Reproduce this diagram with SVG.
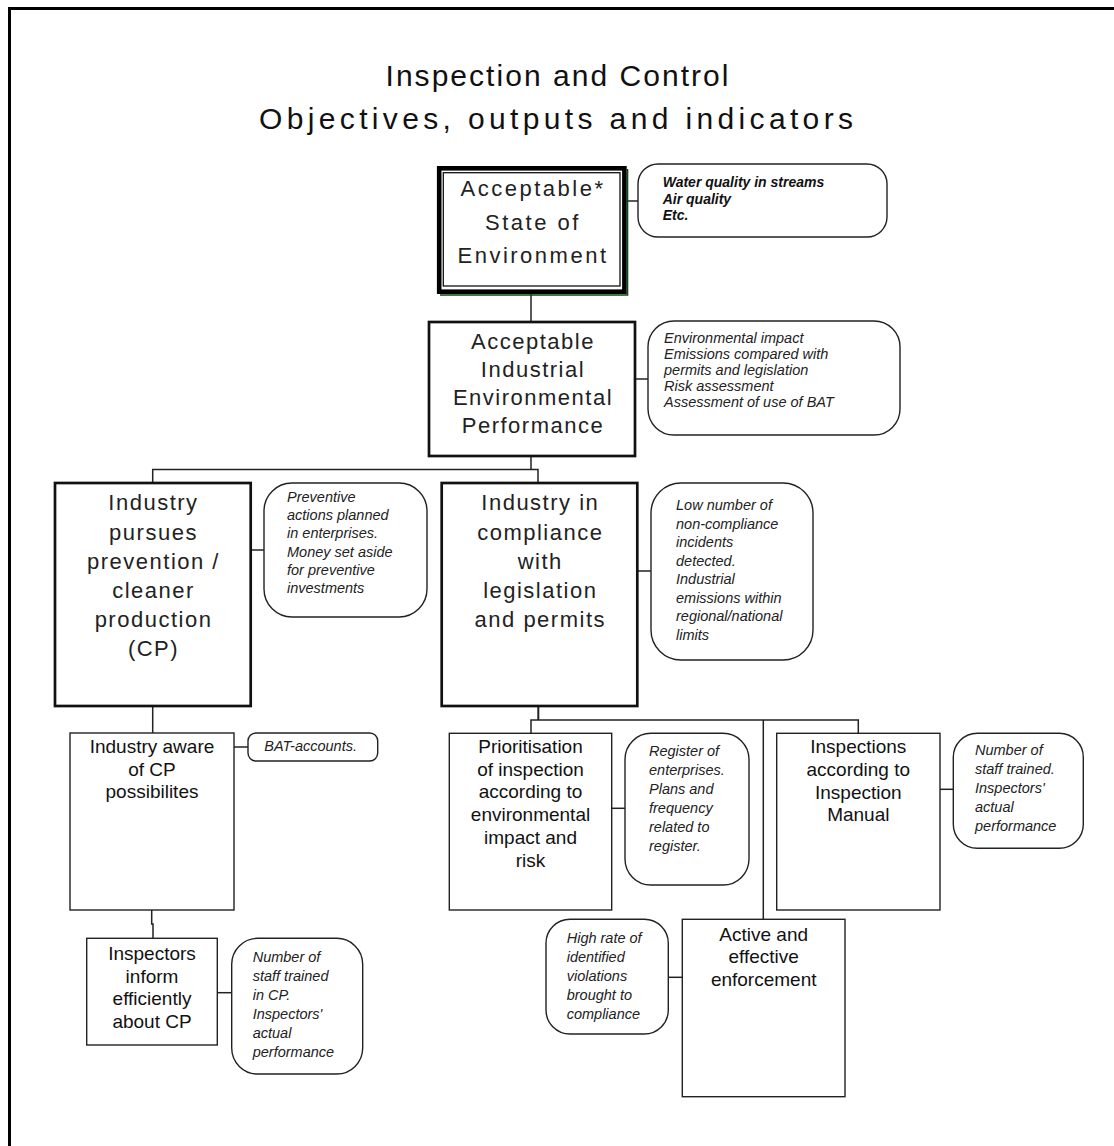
<svg xmlns="http://www.w3.org/2000/svg" width="1114" height="1146" viewBox="0 0 1114 1146">
<style>
.frame{fill:none;stroke:#000;stroke-width:3}
.title{font-family:"Liberation Sans",Arial,sans-serif;font-size:30px;fill:#111;text-anchor:middle}
.big{fill:#fff;stroke:#111;stroke-width:2.7}
.small{fill:#fff;stroke:#222;stroke-width:1.4}
.ind{fill:#fff;stroke:#222;stroke-width:1.4}
.bt{font-family:"Liberation Sans",Arial,sans-serif;font-size:22px;letter-spacing:1.5px;fill:#222;text-anchor:middle}
.st{font-family:"Liberation Sans",Arial,sans-serif;font-size:19px;fill:#111;text-anchor:middle}
.it{font-family:"Liberation Sans",Arial,sans-serif;font-size:14.5px;font-style:italic;fill:#222}
.bi{font-family:"Liberation Sans",Arial,sans-serif;font-size:14px;font-style:italic;font-weight:bold;fill:#111}
.conn path{fill:none;stroke:#222;stroke-width:1.5}
</style>
<rect width="1114" height="1146" fill="#fff"/>
<path class="frame" d="M9.5 1146 V8.5 H1114"/>
<g id="title">
<text class="title" x="557" y="86" textLength="343" lengthAdjust="spacing">Inspection and Control</text>
<text class="title" x="556" y="129" textLength="594" lengthAdjust="spacing">Objectives, outputs and indicators</text>
</g>
<g class="conn" id="connectors">
<path d="M531 294 V322"/>
<path d="M626.7 201 H638"/>
<path d="M635 379 H648"/>
<path d="M531 456 V469.5"/>
<path d="M152.7 483 V469.5 H538 V483"/>
<path d="M250.7 550 H264"/>
<path d="M637.3 571 H651"/>
<path d="M152.7 706 V733"/>
<path d="M234 747 H248"/>
<path d="M151.7 910 V924 H153 V938"/>
<path d="M217.3 992.7 H231.7"/>
<path d="M538.3 706 V720" style="stroke-width:2"/>
<path d="M531 733 V720 H858.3 V733"/>
<path d="M763.3 720 V919.3"/>
<path d="M611.7 808.3 H625"/>
<path d="M940 789.3 H953.3"/>
<path d="M668.3 977.3 H682.3"/>
</g>
<g id="n-state">
<path d="M627.5 169 V295 H440" fill="none" stroke="#0a4a0a" stroke-width="1.6"/>
<rect x="439.2" y="168.3" width="185.2" height="123.4" fill="#fff" stroke="#000" stroke-width="4.6"/>
<rect x="443.3" y="172.7" width="176.7" height="113.3" fill="none" stroke="#111" stroke-width="1.3"/>
<text class="bt" x="533" y="196" style="letter-spacing:2.5px">Acceptable*</text>
<text class="bt" x="533" y="230" style="letter-spacing:2.5px">State of</text>
<text class="bt" x="533" y="263" style="letter-spacing:2.5px">Environment</text>
</g>
<g id="i-state">
<rect class="ind" x="638" y="164" width="249" height="73" rx="20"/>
<text class="bi" x="662.7" y="187">Water quality in streams</text>
<text class="bi" x="662.7" y="204">Air quality</text>
<text class="bi" x="662.7" y="220">Etc.</text>
</g>
<g id="n-perf">
<rect class="big" x="429" y="322" width="206" height="134"/>
<text class="bt" x="533" y="349">Acceptable</text>
<text class="bt" x="533" y="377">Industrial</text>
<text class="bt" x="533" y="405">Environmental</text>
<text class="bt" x="533" y="433">Performance</text>
</g>
<g id="i-perf">
<rect class="ind" x="648" y="321" width="252" height="114" rx="26"/>
<text class="it" x="664" y="343">Environmental impact</text>
<text class="it" x="664" y="359">Emissions compared with</text>
<text class="it" x="664" y="375">permits and legislation</text>
<text class="it" x="664" y="391">Risk assessment</text>
<text class="it" x="664" y="407">Assessment of use of BAT</text>
</g>
<g id="n-prevention">
<rect class="big" x="55" y="483" width="195.7" height="223"/>
<text class="bt" x="153.5" y="510">Industry</text>
<text class="bt" x="153.5" y="540">pursues</text>
<text class="bt" x="153.5" y="569">prevention /</text>
<text class="bt" x="153.5" y="598">cleaner</text>
<text class="bt" x="153.5" y="627">production</text>
<text class="bt" x="153.5" y="656">(CP)</text>
</g>
<g id="i-prevention">
<rect class="ind" x="264" y="483" width="163" height="134" rx="28"/>
<text class="it" x="287" y="502">Preventive</text>
<text class="it" x="287" y="520">actions planned</text>
<text class="it" x="287" y="538">in enterprises.</text>
<text class="it" x="287" y="557">Money set aside</text>
<text class="it" x="287" y="575">for preventive</text>
<text class="it" x="287" y="593">investments</text>
</g>
<g id="n-compliance">
<rect class="big" x="441.7" y="483" width="195.6" height="223"/>
<text class="bt" x="540.3" y="510">Industry in</text>
<text class="bt" x="540.3" y="540">compliance</text>
<text class="bt" x="540.3" y="569">with</text>
<text class="bt" x="540.3" y="598">legislation</text>
<text class="bt" x="540.3" y="627">and permits</text>
</g>
<g id="i-compliance">
<rect class="ind" x="651" y="483" width="162" height="177" rx="30"/>
<text class="it" x="676" y="510">Low number of</text>
<text class="it" x="676" y="528.5">non-compliance</text>
<text class="it" x="676" y="547">incidents</text>
<text class="it" x="676" y="565.5">detected.</text>
<text class="it" x="676" y="584">Industrial</text>
<text class="it" x="676" y="602.5">emissions within</text>
<text class="it" x="676" y="621">regional/national</text>
<text class="it" x="676" y="639.5">limits</text>
</g>
<g id="n-aware">
<rect class="small" x="70" y="733" width="164" height="177"/>
<text class="st" x="152" y="753">Industry aware</text>
<text class="st" x="152" y="775.5">of CP</text>
<text class="st" x="152" y="798">possibilites</text>
</g>
<g id="i-aware">
<rect class="ind" x="248" y="733" width="129.7" height="28" rx="8"/>
<text class="it" x="264.3" y="751">BAT-accounts.</text>
</g>
<g id="n-inform">
<rect class="small" x="86.7" y="938.3" width="130.6" height="106.7"/>
<text class="st" x="152" y="960">Inspectors</text>
<text class="st" x="152" y="982.5">inform</text>
<text class="st" x="152" y="1005">efficiently</text>
<text class="st" x="152" y="1027.5">about CP</text>
</g>
<g id="i-inform">
<rect class="ind" x="231.7" y="938.3" width="131" height="135.7" rx="26"/>
<text class="it" x="252.7" y="962">Number of</text>
<text class="it" x="252.7" y="981">staff trained</text>
<text class="it" x="252.7" y="1000">in CP.</text>
<text class="it" x="252.7" y="1019">Inspectors'</text>
<text class="it" x="252.7" y="1038">actual</text>
<text class="it" x="252.7" y="1057">performance</text>
</g>
<g id="n-prioritisation">
<rect class="small" x="449.3" y="733.3" width="162.4" height="176.7"/>
<text class="st" x="530.5" y="753">Prioritisation</text>
<text class="st" x="530.5" y="775.7">of inspection</text>
<text class="st" x="530.5" y="798.4">according to</text>
<text class="st" x="530.5" y="821.1">environmental</text>
<text class="st" x="530.5" y="843.8">impact and</text>
<text class="st" x="530.5" y="866.5">risk</text>
</g>
<g id="i-prioritisation">
<rect class="ind" x="625" y="733.3" width="124" height="151.7" rx="26"/>
<text class="it" x="649" y="756">Register of</text>
<text class="it" x="649" y="775">enterprises.</text>
<text class="it" x="649" y="794">Plans and</text>
<text class="it" x="649" y="813">frequency</text>
<text class="it" x="649" y="832">related to</text>
<text class="it" x="649" y="851">register.</text>
</g>
<g id="n-inspections">
<rect class="small" x="776.7" y="733.3" width="163.3" height="176.7"/>
<text class="st" x="858.3" y="753.3">Inspections</text>
<text class="st" x="858.3" y="776">according to</text>
<text class="st" x="858.3" y="798.7">Inspection</text>
<text class="st" x="858.3" y="821.4">Manual</text>
</g>
<g id="i-inspections">
<rect class="ind" x="953.3" y="733.3" width="130" height="115" rx="24"/>
<text class="it" x="975" y="755">Number of</text>
<text class="it" x="975" y="774">staff trained.</text>
<text class="it" x="975" y="793">Inspectors'</text>
<text class="it" x="975" y="812">actual</text>
<text class="it" x="975" y="831">performance</text>
</g>
<g id="n-enforcement">
<rect class="small" x="682.3" y="919.3" width="162.7" height="177.4"/>
<text class="st" x="763.7" y="940.7">Active and</text>
<text class="st" x="763.7" y="963.4">effective</text>
<text class="st" x="763.7" y="986.1">enforcement</text>
</g>
<g id="i-enforcement">
<rect class="ind" x="546" y="919.3" width="122.3" height="114.7" rx="24"/>
<text class="it" x="566.7" y="943">High rate of</text>
<text class="it" x="566.7" y="962">identified</text>
<text class="it" x="566.7" y="981">violations</text>
<text class="it" x="566.7" y="1000">brought to</text>
<text class="it" x="566.7" y="1019">compliance</text>
</g>
</svg>
